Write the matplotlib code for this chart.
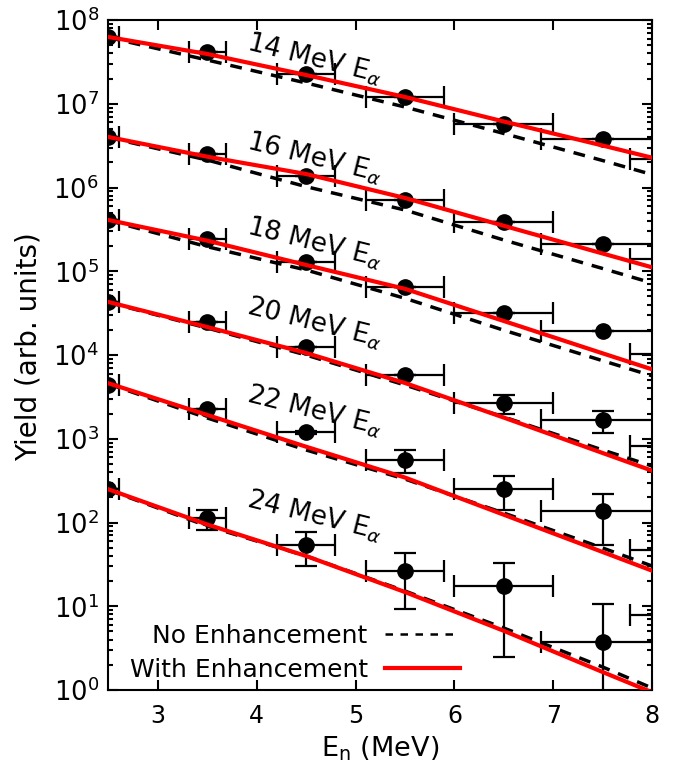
import numpy as np
import matplotlib
matplotlib.use("Agg")
from matplotlib import pyplot as plt
from matplotlib.lines import Line2D
from matplotlib.ticker import LogLocator, NullFormatter, FixedLocator

# Neutron energies of the measured bins (MeV), last bin sits past the axis edge
en = [2.5, 3.5, 4.5, 5.5, 6.5, 7.5, 8.5]
en_err = [0.11, 0.19, 0.29, 0.39, 0.50, 0.62, 0.72]

# Measured yields for each alpha energy
yield_14 = [6.3e7, 4.2e7, 2.26e7, 1.21e7, 5.7e6, 3.8e6, 2.17e6]
yield_16 = [4.05e6, 2.51e6, 1.38e6, 7.1e5, 3.87e5, 2.1e5, 1.4e5]
yield_18 = [4.09e5, 2.4e5, 1.3e5, 6.4e4, 3.15e4, 1.94e4, 1.03e4]
yield_20 = [4.33e4, 2.45e4, 1.24e4, 5.8e3, 2.65e3, 1.66e3, 826]
yield_22 = [4.38e3, 2.25e3, 1.19e3, 557, 251, 138, 47]
yield_24 = [249, 112, 53.8, 26.4, 17.5, 3.78, 7.9]

err_14 = [0, 0, 0, 0, 0, 0, 0]
err_16 = [0, 0, 0, 0, 0, 0, 0]
err_18 = [0, 0, 0, 0, 0, 0, 0]
err_20 = [0, 0, 0, 0, 650, 490, 0]
err_22 = [0, 0, 60, 170, 110, 84, 0]
err_24 = [0, 31, 23.5, 17, 15, 7, 0]

# Hauser-Feshbach calculations, log10 of yield
calc_en = [2.5, 3.5, 4.5, 5.5, 6.5, 7.5, 8.0]
with_14 = [7.797, 7.594, 7.343, 7.081, 6.788, 6.501, 6.356]
no_14 = [7.791, 7.522, 7.248, 6.961, 6.645, 6.322, 6.155]
with_16 = [6.603, 6.368, 6.161, 5.875, 5.543, 5.212, 5.047]
no_16 = [6.597, 6.328, 6.010, 5.731, 5.373, 5.033, 4.860]
with_18 = [5.612, 5.365, 5.075, 4.790, 4.406, 4.020, 3.829]
no_18 = [5.606, 5.293, 5.015, 4.677, 4.296, 3.932, 3.752]
with_20 = [4.633, 4.334, 4.024, 3.666, 3.253, 2.830, 2.619]
no_20 = [4.627, 4.322, 4.000, 3.642, 3.260, 2.866, 2.675]
with_22 = [3.662, 3.284, 2.905, 2.537, 2.093, 1.648, 1.425]
no_22 = [3.654, 3.248, 2.866, 2.519, 2.113, 1.696, 1.481]
with_24 = [2.396, 1.976, 1.600, 1.170, 0.707, 0.215, -0.027]
no_24 = [2.388, 1.958, 1.600, 1.182, 0.740, 0.275, 0.024]

labels = ["14 MeV E$_\\alpha$", "16 MeV E$_\\alpha$", "18 MeV E$_\\alpha$",
          "20 MeV E$_\\alpha$", "22 MeV E$_\\alpha$", "24 MeV E$_\\alpha$"]
label_pos = [(0.249, 0.988), (0.249, 0.840), (0.249, 0.713),
             (0.249, 0.594), (0.249, 0.462), (0.249, 0.305)]

yields = [yield_14, yield_16, yield_18, yield_20, yield_22, yield_24]
errs = [err_14, err_16, err_18, err_20, err_22, err_24]
with_enh = [with_14, with_16, with_18, with_20, with_22, with_24]
no_enh = [no_14, no_16, no_18, no_20, no_22, no_24]

plt.rcParams["font.family"] = "DejaVu Sans"
plt.rcParams["mathtext.fontset"] = "dejavusans"

fig = plt.figure(figsize=(6.91, 7.69), dpi=100)
ax = fig.add_axes([0.157, 0.1027, 0.7866, 0.8713])

dash_style = (3.4, 2.6)
for y, e, w, n in zip(yields, errs, with_enh, no_enh):
    ax.errorbar(en, y, xerr=en_err, yerr=e, fmt="o", color="black", ms=11,
                elinewidth=1.6, capsize=8, capthick=1.6, zorder=2)
    ax.plot(calc_en, np.power(10.0, n), color="black", lw=2.5,
            dashes=dash_style, zorder=3)
    ax.plot(calc_en, np.power(10.0, w), color="red", lw=3, zorder=4)

for txt, (px, py) in zip(labels, label_pos):
    ax.text(px, py, txt, transform=ax.transAxes, fontsize=19, rotation=-14,
            ha="left", va="top")

ax.set_yscale("log")
ax.set_xlim(2.5, 8)
ax.set_ylim(1, 1e8)
ax.xaxis.set_major_locator(FixedLocator([3, 4, 5, 6, 7, 8]))
ax.yaxis.set_major_locator(LogLocator(base=10, numticks=20))
ax.yaxis.set_minor_locator(LogLocator(base=10, subs=np.arange(2, 10), numticks=100))
ax.yaxis.set_minor_formatter(NullFormatter())
ax.tick_params(which="both", direction="in", top=True, right=True, width=1.5)
ax.tick_params(which="major", length=7)
ax.tick_params(which="minor", length=3.5)
ax.tick_params(axis="x", pad=10, labelsize=17)
ax.tick_params(axis="y", pad=7, labelsize=18.5)
for sp in ax.spines.values():
    sp.set_linewidth(1.5)

ax.set_xlabel("E$_\\mathrm{n}$ (MeV)", fontsize=19.5, labelpad=5)
ax.set_ylabel("Yield (arb. units)", fontsize=20)
ax.yaxis.set_label_coords(-0.122, 0.513)

handles = [Line2D([], [], color="black", lw=1.8, dashes=(3, 3)),
           Line2D([], [], color="red", lw=3)]
ax.legend(handles, ["No Enhancement", "With Enhancement"], loc="lower right",
          bbox_to_anchor=(0.647, 0.012), frameon=False, markerfirst=False,
          fontsize=18, handlelength=3.0, handletextpad=0.7, labelspacing=0.4,
          borderpad=0, borderaxespad=0)

fig.savefig("out.png", dpi=100)
